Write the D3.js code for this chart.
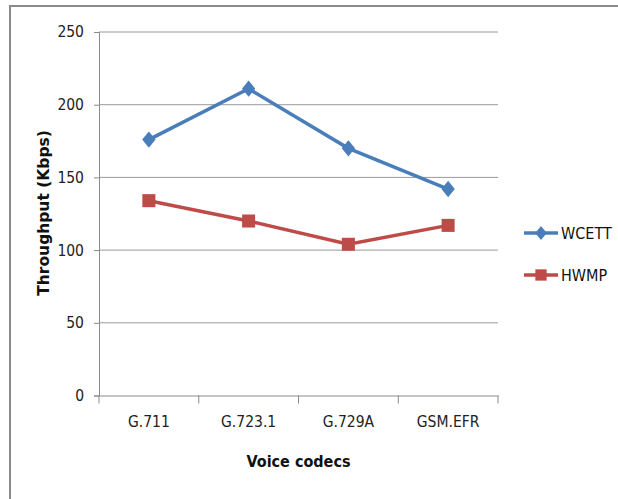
<!DOCTYPE html>
<html>
<head>
<meta charset="utf-8">
<script src="https://cdn.jsdelivr.net/npm/d3@7"></script>
<style>
  body { margin: 0; background: #fff; }
  text { font-family: "Liberation Sans Narrow", "DejaVu Sans Condensed", "Open Sans", sans-serif; }
</style>
</head>
<body>
<div id="chart"></div>
<script>
// chart data
const codecs = ["G.711", "G.723.1", "G.729A", "GSM.EFR"];
const wcett = [176, 211, 170, 142];
const hwmp = [134, 120, 104, 117];
const yTicks = [0, 50, 100, 150, 200, 250];

const width = 618, height = 499;
const margin = {left: 99, right: 120, top: 32, bottom: 103.5};
const font = "'Liberation Sans Narrow', 'DejaVu Sans Condensed', sans-serif";

const svg = d3.select("#chart").append("svg")
    .attr("width", width)
    .attr("height", height);

// outer frame
svg.append("rect")
    .attr("x", 10).attr("y", 6)
    .attr("width", 640).attr("height", 520)
    .attr("fill", "none")
    .attr("stroke", "#8a8a8a")
    .attr("stroke-width", 2);

const x = d3.scaleBand()
    .domain(codecs)
    .range([margin.left, width - margin.right]);

const y = d3.scaleLinear()
    .domain([0, 250])
    .range([height - margin.bottom, margin.top]);

// gridlines
svg.append("g")
    .selectAll("line")
    .data(yTicks.slice(1))
    .enter().append("line")
    .attr("x1", margin.left).attr("x2", width - margin.right)
    .attr("y1", d => y(d)).attr("y2", d => y(d))
    .attr("stroke", "#9a9a9a")
    .attr("stroke-width", 1);

// y axis
const yAxis = svg.append("g")
    .attr("transform", `translate(${margin.left},0)`)
    .call(d3.axisLeft(y).tickValues(yTicks).tickSize(5).tickPadding(10));
yAxis.select(".domain").attr("stroke", "#8a8a8a");
yAxis.selectAll(".tick line").attr("stroke", "#8a8a8a");
yAxis.selectAll("text").attr("font-size", 15.5).attr("fill", "#222")
    .style("font-family", font);

// x axis
const xAxis = svg.append("g")
    .attr("transform", `translate(0,${y(0)})`)
    .call(d3.axisBottom(x).tickSize(0).tickPadding(20));
xAxis.select(".domain").attr("stroke", "#8a8a8a");
xAxis.selectAll("text").attr("font-size", 15.5).attr("fill", "#222")
    .style("font-family", font);

// category boundary ticks
const bounds = codecs.map(c => x(c)).concat([x.range()[1]]);
svg.append("g")
    .selectAll("line")
    .data(bounds)
    .enter().append("line")
    .attr("x1", d => d).attr("x2", d => d)
    .attr("y1", y(0)).attr("y2", y(0) + 8)
    .attr("stroke", "#8a8a8a");

// axis titles
svg.append("text")
    .attr("x", (margin.left + width - margin.right) / 2)
    .attr("y", 467)
    .attr("text-anchor", "middle")
    .attr("font-size", 16)
    .attr("font-weight", "bold")
    .attr("fill", "#111")
    .style("font-family", font)
    .text("Voice codecs");

svg.append("text")
    .attr("transform", "translate(49,213) rotate(-90)")
    .attr("text-anchor", "middle")
    .attr("font-weight", "bold")
    .attr("fill", "#111")
    .style("font-family", "'DejaVu Sans', sans-serif")
    .style("font-size", "15.5px")
    .text("Throughput  (Kbps)");

const series = [
    {name: "WCETT", values: wcett, color: "#4a7ebb", diamond: true, size: 110},
    {name: "HWMP", values: hwmp, color: "#be4b48", diamond: false, size: 170}
];

const cx = c => x(c) + x.bandwidth() / 2;
const shape = s => s.diamond ? " scale(0.9,1.1) rotate(45)" : "";

const line = d3.line()
    .x(d => cx(d.codec))
    .y(d => y(d.value));

series.forEach(s => {
    const pts = codecs.map((c, i) => ({codec: c, value: s.values[i]}));
    svg.append("path")
        .datum(pts)
        .attr("d", line)
        .attr("fill", "none")
        .attr("stroke", s.color)
        .attr("stroke-width", 3.5);
    svg.append("g")
        .selectAll("path")
        .data(pts)
        .enter().append("path")
        .attr("transform", d => `translate(${cx(d.codec)},${y(d.value)})` + shape(s))
        .attr("d", d3.symbol().type(d3.symbolSquare).size(s.size))
        .attr("fill", s.color);
});

// legend
const legend = svg.append("g");
series.forEach((s, i) => {
    const ly = 233 + i * 42;
    legend.append("line")
        .attr("x1", 524).attr("x2", 558)
        .attr("y1", ly).attr("y2", ly)
        .attr("stroke", s.color)
        .attr("stroke-width", 3.5);
    legend.append("path")
        .attr("transform", `translate(541,${ly})` + shape(s))
        .attr("d", d3.symbol().type(d3.symbolSquare).size(s.size * 0.75))
        .attr("fill", s.color);
    legend.append("text")
        .attr("x", 561).attr("y", ly + 5.5)
        .attr("font-size", 16)
        .attr("fill", "#111")
        .style("font-family", font)
        .text(s.name);
});
</script>
</body>
</html>
